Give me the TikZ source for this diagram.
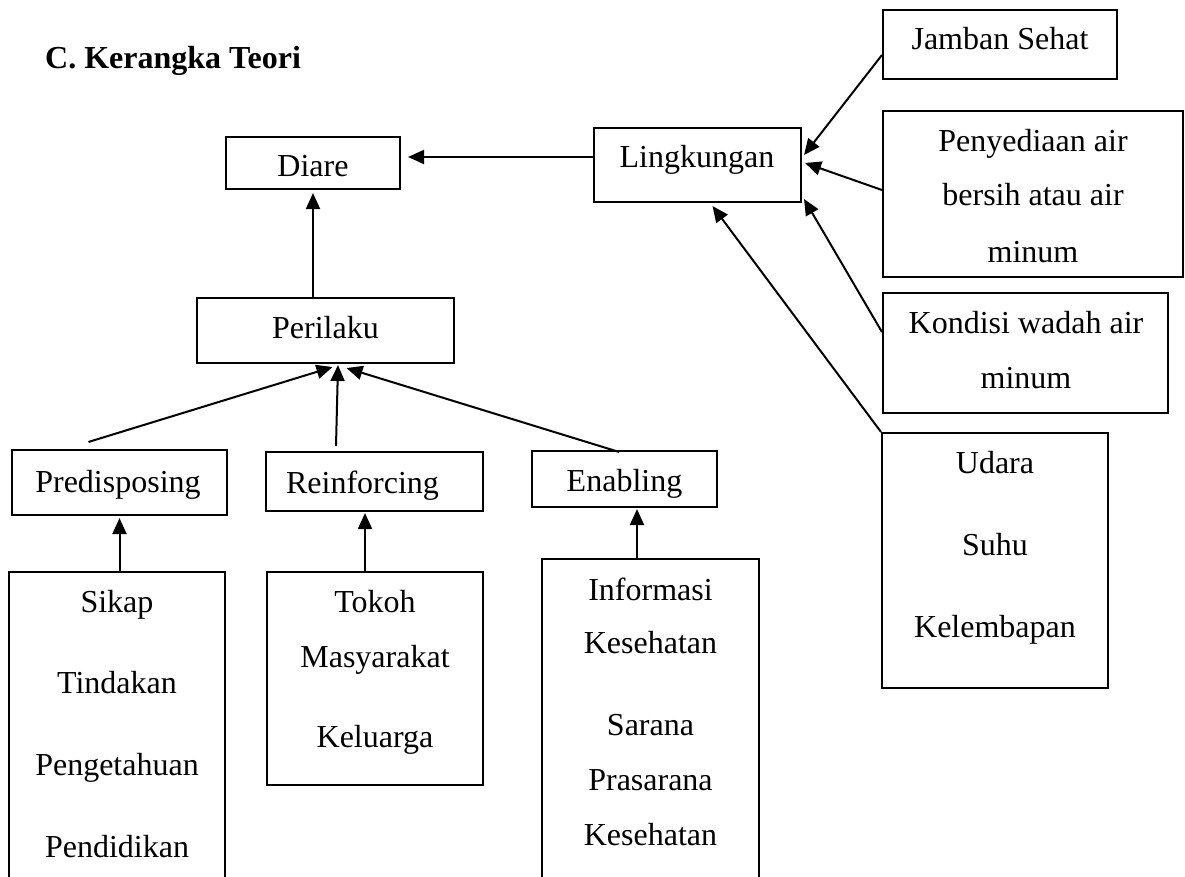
\documentclass[tikz,border=0pt]{standalone}
\usepackage{fontspec}
\setmainfont{Liberation Serif}
\usetikzlibrary{arrows.meta}
\begin{document}
\begin{tikzpicture}[x=1pt,y=-1pt,
  frame/.style={draw, line width=2.1pt, inner sep=0pt},
  lbl/.style={inner sep=0pt, font=\fontsize{32}{55}\selectfont, align=center},
  arr/.style={line width=2pt, -{Triangle[length=16pt,width=14pt]}},
]
\useasboundingbox (0,0) rectangle (1185,877);
\fill[white] (0,0) rectangle (1185,877);
\clip (0,0) rectangle (1185,877);

% title
\node[anchor=base west, inner sep=0pt, font=\fontsize{32}{38}\selectfont\bfseries] (title) at (45,69) {C. Kerangka Teori};

% frames
\node[frame, minimum width=174pt, minimum height=52pt] (diare) at (313,163) {};
\node[frame, minimum width=207pt, minimum height=74pt] (ling) at (697.5,165) {};
\node[frame, minimum width=234pt, minimum height=69pt] (jamban) at (1000,44.5) {};
\node[frame, minimum width=300pt, minimum height=166pt] (peny) at (1033,194) {};
\node[frame, minimum width=285pt, minimum height=120pt] (kond) at (1025.5,353) {};
\node[frame, minimum width=226pt, minimum height=255pt] (udara) at (995,560.5) {};
\node[frame, minimum width=257pt, minimum height=65pt] (perilaku) at (325.5,330.5) {};
\node[frame, minimum width=215pt, minimum height=65pt] (predis) at (119.5,482.5) {};
\node[frame, minimum width=217pt, minimum height=59pt] (reinf) at (374.5,481.5) {};
\node[frame, minimum width=185pt, minimum height=56pt] (enab) at (624.5,479) {};
\node[frame, minimum width=216pt, minimum height=336pt] (sikap) at (117,740) {};
\node[frame, minimum width=216pt, minimum height=213pt] (tokoh) at (375,678.5) {};
\node[frame, minimum width=217pt, minimum height=350pt] (info) at (650.5,734) {};

% single-line texts
\node[lbl, anchor=base] (diareT) at (313,177) {Diare};
\node[lbl, anchor=base] (lingT) at (697,168) {Lingkungan};
\node[lbl, anchor=base] (jambanT) at (1000,50) {Jamban Sehat};
\node[lbl, anchor=base] (perilakuT) at (325.5,338) {Perilaku};
\node[lbl, anchor=base] (predisT) at (118,492) {Predisposing};
\node[lbl, anchor=base] (reinfT) at (362.5,493) {Reinforcing};
\node[lbl, anchor=base] (enabT) at (624.5,491) {Enabling};

% multi-line texts
\node[lbl, anchor=north] (penyT) at (1033,129) {Penyediaan air\\[-1pt]bersih atau air\\[2pt]minum};
\node[lbl, anchor=north] (kondT) at (1026,311) {Kondisi wadah air\\minum};
\node[lbl, anchor=north] (udaraT) at (995,451) {Udara\\[27pt]Suhu\\[27pt]Kelembapan};
\node[lbl, anchor=north] (sikapT) at (117,590) {Sikap\\[26pt]Tindakan\\[27pt]Pengetahuan\\[27pt]Pendidikan};
\node[lbl, anchor=north] (tokohT) at (375,590) {Tokoh\\Masyarakat\\[25pt]Keluarga};
\node[lbl, anchor=north] (infoT) at (650.5,578) {Informasi\\[-2pt]Kesehatan\\[27pt]Sarana\\Prasarana\\Kesehatan};

% connectors
\draw[arr] ([yshift=8pt]ling.west) -- ([xshift=7pt,yshift=6pt]diare.east);
\draw[arr] (diare.south |- perilaku.north) -- ([yshift=-3pt]diare.south);
\draw[arr] ([xshift=-31pt,yshift=7pt]predis.north) -- ([xshift=7pt,yshift=-3pt]perilaku.south);
\draw[arr] ([xshift=-38.5pt,yshift=5pt]reinf.north) -- ([xshift=12.5pt,yshift=-1pt]perilaku.south);
\draw[arr] ([xshift=-5.5pt,yshift=-2pt]enab.north) -- ([xshift=21pt,yshift=-4pt]perilaku.south);
\draw[arr] (predis.south |- sikap.north) -- ([yshift=-2pt]predis.south);
\draw[arr] ([xshift=-10pt]tokoh.north) -- ([xshift=-9.5pt,yshift=-1pt]reinf.south);
\draw[arr] ([xshift=-13.5pt]info.north) -- ([xshift=12.5pt,yshift=-1pt]enab.south);
\draw[arr] ([yshift=-10.5pt]jamban.west) -- ([xshift=2pt,yshift=10pt]ling.east);
\draw[arr] ([yshift=4pt]peny.west) -- ([xshift=3pt,yshift=2pt]ling.east);
\draw[arr] ([yshift=21pt]kond.west) -- ([xshift=2pt,yshift=4pt]ling.south east);
\draw[arr] (udara.north west) -- ([xshift=15pt,yshift=-3pt]ling.south);
\end{tikzpicture}
\end{document}
